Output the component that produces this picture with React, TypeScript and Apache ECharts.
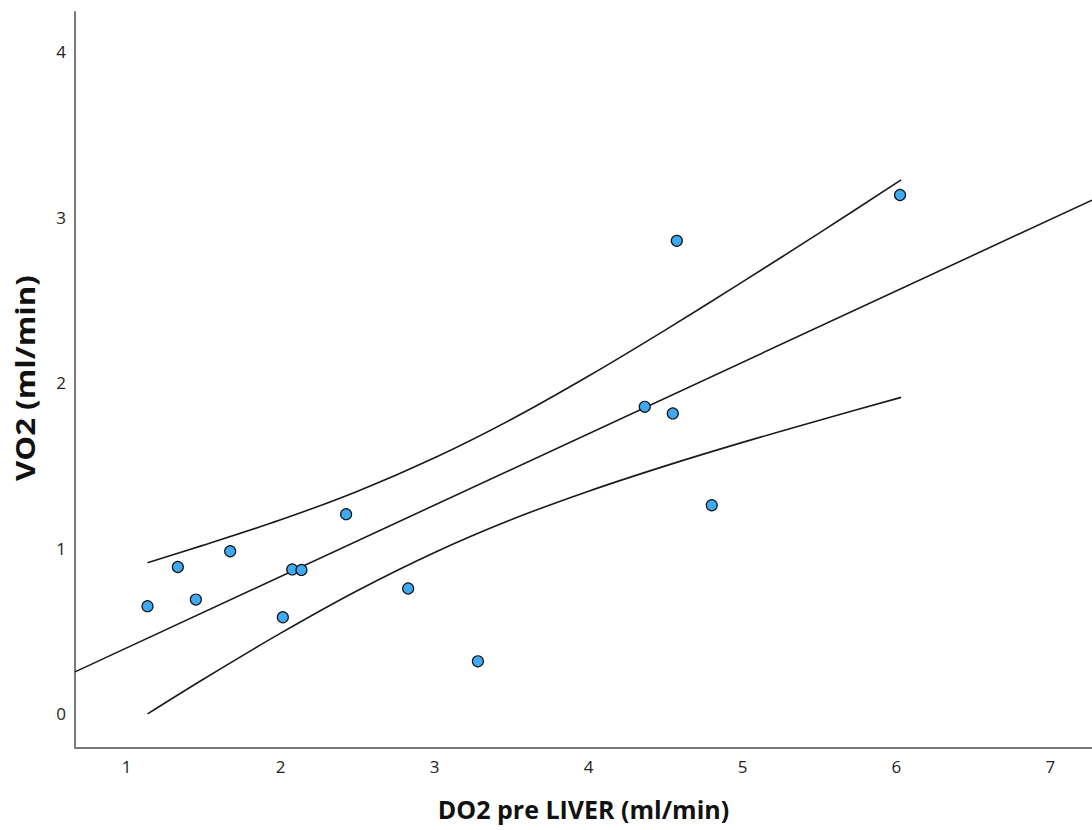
import React, { useEffect, useRef } from "react";
import * as echarts from "echarts";

// Observed points (DO2 pre LIVER, VO2)
const pointX = [1.135, 1.332, 1.449, 1.672, 2.014, 2.075, 2.135, 2.425, 2.828, 3.281, 4.365, 4.547, 4.573, 4.80, 6.023];
const pointY = [0.649, 0.886, 0.689, 0.981, 0.582, 0.871, 0.868, 1.205, 0.756, 0.316, 1.854, 1.814, 2.857, 1.259, 3.134];

// Fit line (read at the axis edges)
const fitX = [0.664, 7.27];
const fitY = [0.252, 3.103];

// Confidence band curves
const ciX = [1.135, 1.5, 2.0, 2.5, 3.0, 3.5, 4.0, 4.5, 5.0, 5.5, 6.03];
const ciUpper = [0.912, 1.018, 1.171, 1.344, 1.546, 1.779, 2.04, 2.319, 2.609, 2.905, 3.225];
const ciLower = [-0.002, 0.209, 0.486, 0.744, 0.974, 1.173, 1.344, 1.497, 1.639, 1.773, 1.911];

const xRange = [0.664, 7.27];
const yRange = [-0.208, 4.24];

const xTitle = "DO2 pre LIVER (ml/min)";
const yTitle = "VO2 (ml/min)";

const zip = (a: number[], b: number[]) => a.map((v, i) => [v, b[i]]);

export default function App() {
  const ref = useRef<HTMLDivElement>(null);
  useEffect(() => {
    if (!ref.current) return;
    const chart = echarts.init(ref.current, null, { renderer: "svg" });
    const lineStyle = { color: "#1a1a1a", width: 1.6 };
    const labelFmt = (v: number) => (Math.abs(v - Math.round(v)) < 1e-9 ? String(Math.round(v)) : "");
    chart.setOption({
      animation: false,
      backgroundColor: "#ffffff",
      grid: { left: 75, top: 12, right: 0, bottom: 82, containLabel: false, outerBoundsMode: "none" },
      xAxis: {
        type: "value",
        min: xRange[0],
        max: xRange[1],
        name: xTitle,
        nameLocation: "middle",
        nameGap: 48,
        nameTextStyle: { fontFamily: "Open Sans", fontWeight: "bold", fontSize: 25, color: "#111" },
        axisLine: { show: true, onZero: false, lineStyle: { color: "#7a7a7a", width: 2 } },
        axisTick: { show: false },
        splitLine: { show: false },
        axisLabel: { formatter: labelFmt, color: "#222", fontSize: 17, fontFamily: "Open Sans", margin: 10, showMinLabel: false, showMaxLabel: false },
      },
      yAxis: {
        type: "value",
        min: yRange[0],
        max: yRange[1],
        axisLine: { show: true, onZero: false, lineStyle: { color: "#7a7a7a", width: 2 } },
        axisTick: { show: false },
        splitLine: { show: false },
        axisLabel: { formatter: labelFmt, color: "#222", fontSize: 17, fontFamily: "Open Sans", margin: 9, showMinLabel: false, showMaxLabel: false },
      },
      graphic: [
        {
          type: "text",
          x: 25,
          y: 378,
          rotation: Math.PI / 2,
          scaleX: 1.2,
          style: {
            text: yTitle,
            fontFamily: "Open Sans",
            fontWeight: "bold",
            fontSize: 26,
            fill: "#111",
            align: "center",
            verticalAlign: "middle",
          },
        },
      ],
      series: [
        { type: "line", data: zip(fitX, fitY), showSymbol: false, symbol: "none", lineStyle, z: 2 },
        { type: "line", data: zip(ciX, ciUpper), showSymbol: false, symbol: "none", smooth: 0.3, lineStyle, z: 2 },
        { type: "line", data: zip(ciX, ciLower), showSymbol: false, symbol: "none", smooth: 0.3, lineStyle, z: 2 },
        {
          type: "scatter",
          data: zip(pointX, pointY),
          symbol: "circle",
          symbolSize: 11,
          itemStyle: { color: "#3eaaf2", borderColor: "#111", borderWidth: 1.2, opacity: 1 },
          z: 3,
        },
      ],
    });
    return () => chart.dispose();
  }, []);
  return <div ref={ref} style={{ position: "absolute", left: 0, top: 0, width: 1092, height: 830 }} />;
}
